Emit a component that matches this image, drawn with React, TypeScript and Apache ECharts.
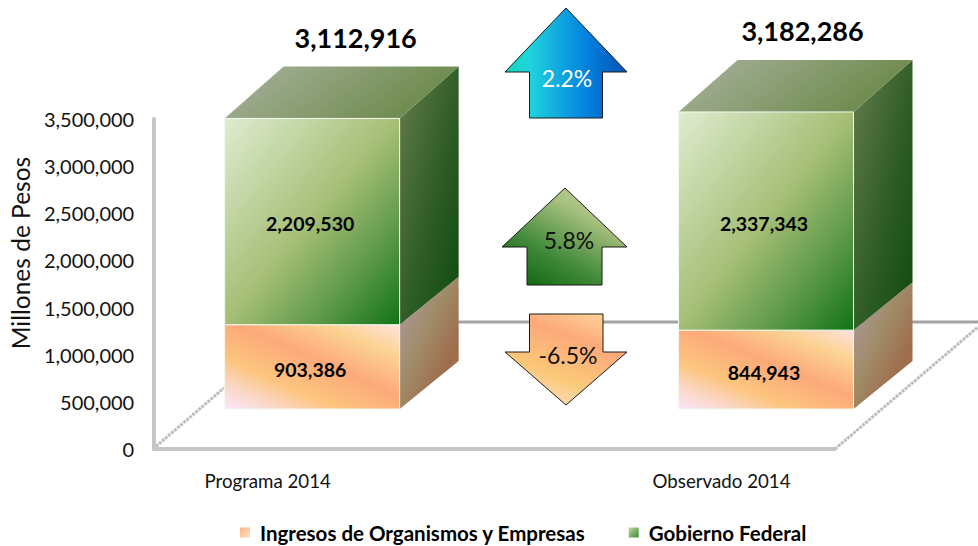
import React, { useEffect, useRef } from "react";
import * as echarts from "echarts";

const categories = ["Programa 2014", "", "Observado 2014"];
const barCategoryIndex = [0, 2];
const organismos = [903386, 844943];
const gobierno = [2209530, 2337343];
const totales = [3112916, 3182286];
const seriesNames = ["Ingresos de Organismos y Empresas", "Gobierno Federal"];
const yMax = 3500000;
const yInterval = 500000;
const cambios = ["2.2%", "5.8%", "-6.5%"];

const fmt = (v: number) => v.toLocaleString("en-US");
const FONT = "Lato";

const lin = (x: number, y: number, x2: number, y2: number, stops: [number, string][]) =>
  new echarts.graphic.LinearGradient(x, y, x2, y2, stops.map(([offset, color]) => ({ offset, color })));

const greenFront = () => lin(0, 0, 1, 1, [[0, "#dfecd0"], [0.5, "#a5be76"], [0.75, "#5f9a4a"], [1, "#117316"]]);
const greenSide = () => lin(0, 0, 1, 1, [[0, "#667d4c"], [0.55, "#2f5c26"], [1, "#0c4a0c"]]);
const greenTop = () => lin(0, 0, 1, 0.3, [[0, "#aab39f"], [1, "#6d8a4c"]]);
const orangeFront = () => lin(0.05, 1, 0.98, 0, [[0, "#f9e4f6"], [0.14, "#fbd6c4"], [0.3, "#fcc57e"], [0.55, "#fda97a"], [0.8, "#fcd292"], [1, "#fee2dc"]]);
const orangeSide = () => lin(0, 0, 1, 1, [[0, "#aca0a6"], [0.45, "#a08a66"], [0.75, "#9e6c4c"], [1, "#a87a58"]]);

const BAR_OFFSET_X = 44.5;
const BAR_OFFSET_Y = -40;
const BAR_WIDTH = 175;
const DEPTH_X = 59;
const DEPTH_Y = 48;
const TOP_DEPTH_Y = 52;
const FRONT_SCALE = 0.99;
const TOTAL_OFFSET_X = [88, 81];
const TOTAL_OFFSET_Y = -118;

function makeRender(kind: "org" | "gob") {
  return (_p: any, api: any) => {
    const zero = api.coord([api.value(0), 0]);
    const base = api.coord([api.value(0), api.value(1)]);
    const top = api.coord([api.value(0), api.value(2)]);
    const front = (y: number) => zero[1] + (y - zero[1]) * FRONT_SCALE + BAR_OFFSET_Y;
    const x0 = base[0] + BAR_OFFSET_X - BAR_WIDTH / 2;
    const x1 = x0 + BAR_WIDTH;
    const yb = front(base[1]);
    const yt = front(top[1]);
    const children: any[] = [
      {
        type: "polygon",
        shape: { points: [[x1, yb], [x1 + DEPTH_X, yb - DEPTH_Y], [x1 + DEPTH_X, yt - (kind === "gob" ? TOP_DEPTH_Y : DEPTH_Y)], [x1, yt]] },
        style: { fill: kind === "gob" ? greenSide() : orangeSide() },
      },
    ];
    if (kind === "gob") {
      children.push({
        type: "polygon",
        shape: { points: [[x0, yt], [x0 + DEPTH_X, yt - TOP_DEPTH_Y], [x1 + DEPTH_X, yt - TOP_DEPTH_Y], [x1, yt]] },
        style: { fill: greenTop() },
      });
    }
    children.push(
      {
        type: "rect",
        shape: { x: x0, y: yt, width: BAR_WIDTH, height: yb - yt },
        style: { fill: kind === "gob" ? greenFront() : orangeFront(), stroke: "#f4f8ee", lineWidth: 1 },
      },
      {
        type: "text",
        z2: 5,
        style: {
          text: fmt(api.value(2) - api.value(1)),
          x: (x0 + x1) / 2 - 2,
          y: (yb + yt) / 2 + (kind === "gob" ? 2 : 3),
          align: "center",
          verticalAlign: "middle",
          font: `bold 19.5px ${FONT}`,
          fill: "#000",
        },
      }
    );
    return { type: "group", children };
  };
}

const renderTotal = (p: any, api: any) => {
  const c = api.coord([api.value(0), api.value(1)]);
  return {
    type: "text",
    style: {
      text: fmt(api.value(1)),
      x: c[0] + TOTAL_OFFSET_X[p.dataIndex],
      y: c[1] + TOTAL_OFFSET_Y,
      align: "center",
      verticalAlign: "middle",
      font: `bold 27px ${FONT}`,
      fill: "#000",
    },
  };
};

const arrowStroke = { stroke: "#1a1a1a", lineWidth: 1 };
const pctText = (text: string, x: number, y: number, fill: string) => ({
  type: "text",
  z: 20,
  style: { text, x, y, align: "center", verticalAlign: "middle", font: `23px ${FONT}`, fill },
});

export default function App() {
  const ref = useRef<HTMLDivElement>(null);
  useEffect(() => {
    const chart = echarts.init(ref.current!, undefined, { renderer: "svg" });
    chart.setOption({
      animation: false,
      backgroundColor: "#fff",
      textStyle: { fontFamily: FONT },
      grid: { left: 153, top: 119, width: 682, height: 330 },
      legend: {
        left: 235,
        top: 517,
        itemWidth: 10,
        itemHeight: 10,
        itemGap: 43,
        textStyle: { fontFamily: FONT, fontWeight: "bold", fontSize: 20.5, color: "#000", padding: [0, 0, 0, 5] },
        data: [
          { name: seriesNames[0], icon: "rect", itemStyle: { color: lin(0, 0, 1, 1, [[0, "#fcb58a"], [1, "#fbe0c0"]]) } },
          { name: seriesNames[1], icon: "rect", itemStyle: { color: lin(0, 0, 1, 1, [[0, "#c4d8a8"], [1, "#3f8a30"]]) } },
        ],
      },
      xAxis: {
        type: "category",
        data: categories,
        axisTick: { show: false },
        axisLine: { lineStyle: { color: "#c6c6c6", width: 4 } },
        axisLabel: { fontSize: 18.7, color: "#111", margin: 22, fontFamily: FONT, interval: 0 },
      },
      yAxis: {
        type: "value",
        min: 0,
        max: yMax,
        interval: yInterval,
        name: "Millones de Pesos",
        nameLocation: "middle",
        nameGap: 118,
        nameTextStyle: { fontSize: 24.5, color: "#111", fontFamily: FONT, padding: [0, 0, 0, 62] },
        axisTick: { show: false },
        splitLine: { show: false },
        axisLine: { show: true, lineStyle: { color: "#c6c6c6", width: 4 } },
        axisLabel: { fontSize: 20, color: "#111", margin: 20, fontFamily: FONT, formatter: (v: number) => fmt(v) },
      },
      graphic: {
        elements: [
          { type: "line", z: 0, shape: { x1: 296, y1: 322, x2: 978, y2: 322 }, style: { stroke: "#a3a3a3", lineWidth: 3 } },
          { type: "line", z: 0, shape: { x1: 153, y1: 449, x2: 224, y2: 388 }, style: { stroke: "#bdbdbd", lineWidth: 3, lineDash: [3, 1] } },
          { type: "line", z: 0, shape: { x1: 835, y1: 449, x2: 978, y2: 327 }, style: { stroke: "#bdbdbd", lineWidth: 3, lineDash: [3, 1] } },
          {
            type: "polygon", z: 10,
            shape: { points: [[566, 8], [627, 72], [602.5, 72], [602.5, 118], [529.5, 118], [529.5, 72], [505, 72]] },
            style: { fill: lin(0, 0.5, 1, 0.5, [[0, "#10d8b8"], [0.2, "#20d4dc"], [0.65, "#0484e0"], [1, "#0450b0"]]), ...arrowStroke },
          },
          pctText(cambios[0], 567, 78, "#fff"),
          {
            type: "polygon", z: 10,
            shape: { points: [[565, 188], [627, 247], [602, 247], [602, 285], [527, 285], [527, 247], [502, 247]] },
            style: { fill: lin(0.1, 1, 0.8, 0, [[0, "#0c640c"], [0.35, "#418a3a"], [0.75, "#a7c07e"], [1, "#c0d29c"]]), ...arrowStroke },
          },
          pctText(cambios[1], 569, 240, "#111"),
          {
            type: "polygon", z: 10,
            shape: { points: [[529.5, 314], [603, 314], [603, 352], [627, 352], [566, 405], [505, 352], [529.5, 352]] },
            style: { fill: lin(0.8, 0, 0.3, 1, [[0, "#fdd49a"], [0.3, "#fda97a"], [0.7, "#fbc878"], [1, "#fde0c4"]]), ...arrowStroke },
          },
          pctText(cambios[2], 568, 355, "#111"),
        ],
      },
      series: [
        {
          name: seriesNames[0],
          type: "custom",
          coordinateSystem: "cartesian2d",
          clip: false,
          z: 3,
          renderItem: makeRender("org"),
          data: barCategoryIndex.map((c, i) => [c, 0, organismos[i]]),
        },
        {
          name: seriesNames[1],
          type: "custom",
          coordinateSystem: "cartesian2d",
          clip: false,
          z: 3,
          renderItem: makeRender("gob"),
          data: barCategoryIndex.map((c, i) => [c, organismos[i], organismos[i] + gobierno[i]]),
        },
        {
          name: "Total",
          type: "custom",
          coordinateSystem: "cartesian2d",
          clip: false,
          z: 4,
          renderItem: renderTotal,
          data: barCategoryIndex.map((c, i) => [c, totales[i]]),
        },
      ],
    });
    return () => chart.dispose();
  }, []);
  return <div ref={ref} style={{ position: "absolute", left: 0, top: 0, width: 978, height: 546 }} />;
}
